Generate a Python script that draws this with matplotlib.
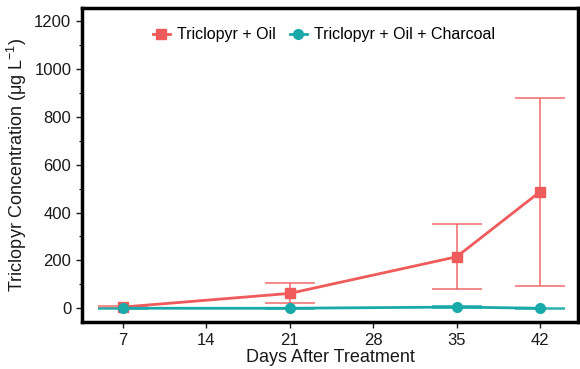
import matplotlib.pyplot as plt
from matplotlib.ticker import MultipleLocator

plt.rcParams['font.family'] = ['Liberation Sans', 'DejaVu Sans']
plt.rcParams['mathtext.fontset'] = 'custom'
plt.rcParams['mathtext.rm'] = 'Liberation Sans'
plt.rcParams['mathtext.it'] = 'Liberation Sans:italic'

days = [7, 21, 35, 42]
oil_mean = [5, 62, 215, 487]
oil_low = [0, 22, 80, 93]
oil_high = [11, 104, 350, 880]
char_mean = [0, 0, 5, 0]
char_low = [-3, -3, 1, -3]
char_high = [3, 3, 9, 3]

red = "#EF5A5A"
teal = "#1AA9A9"

fig = plt.figure(figsize=(5.8, 3.69), dpi=100)
ax = fig.add_axes([0.141, 0.127, 0.856, 0.851])

for mean, lo, hi, col, mk, lab in [
    (oil_mean, oil_low, oil_high, red, "s", "Triclopyr + Oil"),
    (char_mean, char_low, char_high, teal, "o", "Triclopyr + Oil + Charcoal"),
]:
    err = [[m - l for m, l in zip(mean, lo)], [h - m for m, h in zip(mean, hi)]]
    ax.errorbar(days, mean, yerr=err, fmt="none", ecolor=col, elinewidth=1.1,
                capsize=18, capthick=1.1, alpha=0.9)
    ax.plot(days, mean, color=col, lw=2, marker=mk, ms=7, label=lab)

ax.set_xlim(3.57, 45.2)
ax.set_ylim(-58, 1254)
ax.set_xticks([7, 14, 21, 28, 35, 42])
ax.set_yticks([0, 200, 400, 600, 800, 1000, 1200])
ax.yaxis.set_minor_locator(MultipleLocator(100))
ax.tick_params(axis="both", labelsize=12, colors="#1a1a1a", length=4, width=1)
ax.tick_params(axis="y", which="minor", length=2, width=0.8)
for s in ax.spines.values():
    s.set_linewidth(2.5)
    s.set_color("black")

ax.set_xlabel("Days After Treatment", fontsize=13, labelpad=1, color="#1a1a1a")
ax.set_ylabel(r"Triclopyr Concentration (μg L$^{-1}$)", fontsize=13, labelpad=4, color="#1a1a1a")

ax.legend(loc="upper center", bbox_to_anchor=(0.487, 0.985), ncol=2, frameon=False,
          fontsize=11.5, handlelength=1.1, handletextpad=0.4, columnspacing=0.9)

fig.savefig("out.png", dpi=100)
